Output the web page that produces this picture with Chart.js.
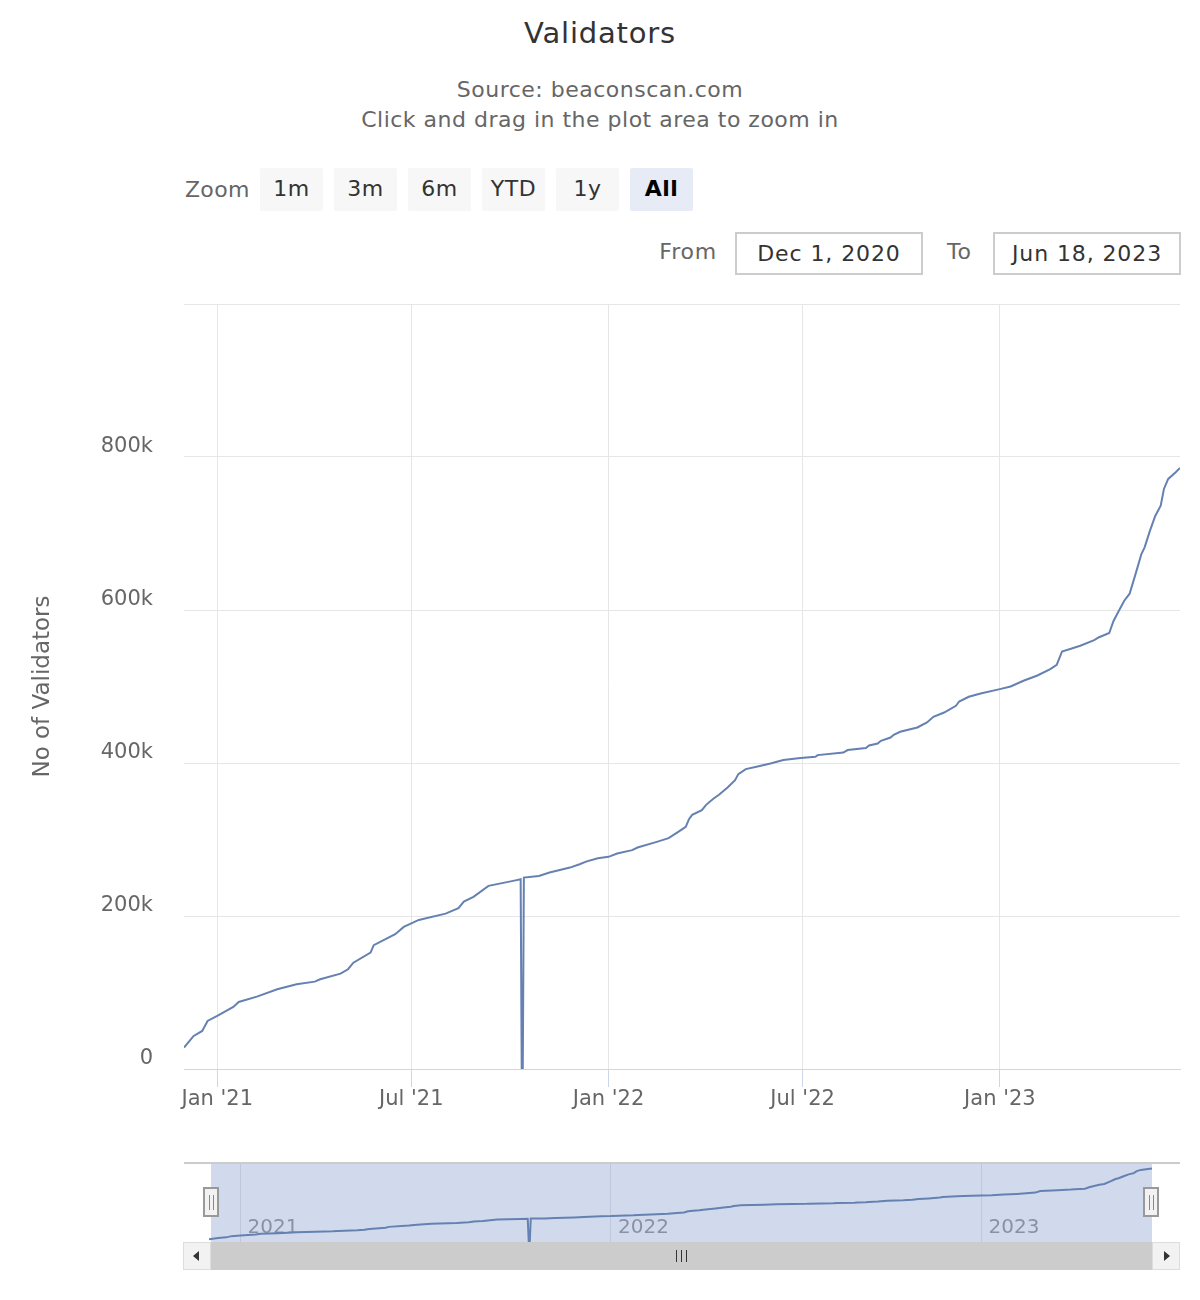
<!DOCTYPE html>
<html>
<head>
<meta charset="utf-8">
<title>Validators</title>
<script src="https://cdn.jsdelivr.net/npm/chart.js@4.4.1/dist/chart.umd.min.js"></script>
<style>
  body { margin: 0; background: #fff; font-family: "DejaVu Sans", sans-serif; }
  #page { position: relative; width: 1200px; height: 1300px; overflow: hidden; }
  .abs { position: absolute; }
  .title { left: 0; width: 1200px; top: 13px; text-align: center; font-size: 29px; letter-spacing: 0.8px; line-height: 40px; color: #333; }
  .sub { left: 0; width: 1200px; top: 75px; text-align: center; font-size: 22px; letter-spacing: 0.5px; line-height: 30px; color: #666; }
  .zoomlbl { left: 185px; top: 175px; font-size: 22px; letter-spacing: 0.3px; line-height: 30px; color: #666; }
  .btn { top: 168px; width: 63px; height: 43px; background: #f7f7f7; border-radius: 2px; text-align: center; font-size: 22px; letter-spacing: 0.5px; line-height: 41px; color: #333; }
  .btn.sel { background: #e6ebf5; font-weight: bold; color: #000; }
  .lbl { top: 237px; font-size: 22px; letter-spacing: 0.8px; line-height: 30px; color: #666; }
  .box { top: 232px; width: 188px; height: 43px; box-sizing: border-box; border: 2px solid #ccc; text-align: center; font-size: 22px; letter-spacing: 0.9px; line-height: 39px; color: #333; }
  .sbtn { top: 1242px; width: 28px; height: 28px; box-sizing: border-box; background: #f2f2f2; border: 1px solid #ddd; }
  .handle { top: 1187px; width: 16px; height: 30px; box-sizing: border-box; background: #f2f2f2; border: 2px solid #999; }
  .handle i { position: absolute; top: 6px; width: 1px; height: 15px; background: #888; }
  .grip { top: 1250px; width: 1px; height: 12px; background: #333; }
</style>
</head>
<body>
<div id="page">
  <div class="abs title">Validators</div>
  <div class="abs sub">Source: beaconscan.com<br>Click and drag in the plot area to zoom in</div>

  <div class="abs zoomlbl">Zoom</div>
  <div class="abs btn" style="left:260px">1m</div>
  <div class="abs btn" style="left:334px">3m</div>
  <div class="abs btn" style="left:408px">6m</div>
  <div class="abs btn" style="left:482px">YTD</div>
  <div class="abs btn" style="left:556px">1y</div>
  <div class="abs btn sel" style="left:630px">All</div>

  <div class="abs lbl" style="left:600px;width:117px;text-align:right">From</div>
  <div class="abs box" style="left:735px">Dec 1, 2020</div>
  <div class="abs lbl" style="left:947px">To</div>
  <div class="abs box" style="left:993px">Jun 18, 2023</div>

  <canvas id="main" class="abs" style="left:0;top:280px" width="1200" height="840"></canvas>
  <canvas id="nav" class="abs" style="left:209px;top:1163px" width="943" height="79"></canvas>

  <div class="abs" style="left:184px;top:1162px;width:996px;height:2px;background:#ccc"></div>

  <div class="abs" style="left:211px;top:1242px;width:941px;height:28px;background:#ccc"></div>
  <div class="abs sbtn" style="left:183px"></div>
  <div class="abs sbtn" style="left:1152px"></div>
  <div class="abs" style="left:193px;top:1251px;width:0;height:0;border-top:5px solid transparent;border-bottom:5px solid transparent;border-right:6px solid #333"></div>
  <div class="abs" style="left:1164px;top:1251px;width:0;height:0;border-top:5px solid transparent;border-bottom:5px solid transparent;border-left:6px solid #333"></div>
  <div class="abs grip" style="left:676px"></div>
  <div class="abs grip" style="left:681px"></div>
  <div class="abs grip" style="left:686px"></div>

  <div class="abs handle" style="left:203px"><i style="left:4px"></i><i style="left:8px"></i></div>
  <div class="abs handle" style="left:1143px"><i style="left:4px"></i><i style="left:8px"></i></div>
</div>

<script>
// validators count
const dates = [
  "2020-12-01", "2020-12-10", "2020-12-18", "2020-12-23", "2021-01-01", "2021-01-16", "2021-01-21",
  "2021-02-07", "2021-02-26", "2021-03-16", "2021-04-02", "2021-04-07", "2021-04-26", "2021-05-03",
  "2021-05-08", "2021-05-24", "2021-05-27", "2021-06-16", "2021-06-24", "2021-07-08", "2021-08-02",
  "2021-08-14", "2021-08-19", "2021-08-28", "2021-09-11", "2021-10-04", "2021-10-11", "2021-10-12",
  "2021-10-13", "2021-10-14", "2021-10-28", "2021-11-07", "2021-11-26", "2021-12-05", "2021-12-11",
  "2021-12-22", "2022-01-01", "2022-01-09", "2022-01-23", "2022-01-28", "2022-02-15", "2022-02-26",
  "2022-03-07", "2022-03-14", "2022-03-17", "2022-03-20", "2022-03-29", "2022-04-02", "2022-04-09",
  "2022-04-14", "2022-04-22", "2022-04-29", "2022-05-02", "2022-05-09", "2022-05-20", "2022-06-01",
  "2022-06-13", "2022-06-29", "2022-07-13", "2022-07-15", "2022-08-08", "2022-08-12", "2022-08-29",
  "2022-09-01", "2022-09-09", "2022-09-12", "2022-09-21", "2022-09-24", "2022-09-30", "2022-10-16",
  "2022-10-25", "2022-10-31", "2022-11-10", "2022-11-21", "2022-11-24", "2022-12-03", "2022-12-14",
  "2023-01-01", "2023-01-11", "2023-01-23", "2023-02-05", "2023-02-17", "2023-02-23", "2023-02-28",
  "2023-03-17", "2023-03-30", "2023-04-03", "2023-04-13", "2023-04-17", "2023-04-22", "2023-04-27",
  "2023-05-02", "2023-05-08", "2023-05-13", "2023-05-16", "2023-05-21", "2023-05-26", "2023-05-31",
  "2023-06-03", "2023-06-07", "2023-06-14", "2023-06-18"
];
const validators = [
  28000, 43200, 49700, 62800, 69300, 81100, 87600,
  94600, 104200, 110800, 114200, 117300, 124700, 130400,
  139000, 152100, 161800, 176200, 185700, 194900, 203100,
  210200, 218800, 225000, 239400, 245900, 248100, 0,
  0, 250200, 252400, 256800, 263300, 267700, 271100,
  275600, 277300, 281600, 286100, 289500, 296900, 301700,
  310000, 316500, 326600, 332200, 338400, 345300, 353600,
  358400, 368000, 377600, 385500, 392000, 395400, 399300,
  403800, 406400, 408100, 410300, 413700, 416900, 419500,
  422900, 425500, 429000, 433300, 436900, 440800, 446400,
  453000, 460400, 466000, 474800, 480400, 486600, 490900,
  496600, 500000, 507500, 514400, 522800, 528400, 545800,
  553300, 560700, 564100, 569900, 585600, 599100, 612100,
  621300, 649200, 673200, 681900, 703700, 723300, 736400,
  758200, 771300, 780000, 785700
];

const rangeFrom = "2020-12-01";
const rangeTo = "2023-06-18";

const xTickDates = ["2021-01-01", "2021-07-01", "2022-01-01", "2022-07-01", "2023-01-01"];
const xTickLabels = ["Jan '21", "Jul '21", "Jan '22", "Jul '22", "Jan '23"];
const navTickDates = ["2021-01-01", "2022-01-01", "2023-01-01"];
const navTickLabels = ["2021", "2022", "2023"];

const yMax = 1000000;
const yStep = 200000;

// days since the start of the range
function dayOf(s) {
  const p = s.split('-').map(Number);
  return (Date.UTC(p[0], p[1] - 1, p[2]) - Date.UTC(2020, 11, 1)) / 864e5;
}

const points = dates.map((d, i) => ({ x: dayOf(d), y: validators[i] }));
const xMin = dayOf(rangeFrom);
const xMax = dayOf(rangeTo);

Chart.defaults.font.family = '"DejaVu Sans", sans-serif';
Chart.defaults.color = '#666';

const lineColor = '#6581b1';

new Chart(document.getElementById('main'), {
  type: 'line',
  data: {
    datasets: [{
      data: points,
      borderColor: lineColor,
      borderWidth: 2,
      pointRadius: 0,
      tension: 0,
      fill: false
    }]
  },
  options: {
    responsive: false,
    animation: false,
    layout: { padding: { top: 24, right: 20, left: 0, bottom: 0 } },
    plugins: { legend: { display: false }, tooltip: { enabled: false } },
    scales: {
      x: {
        type: 'linear',
        min: xMin,
        max: xMax,
        afterBuildTicks: s => { s.ticks = xTickDates.map(d => ({ value: dayOf(d) })); },
        afterFit: s => { s.height = 51; s.paddingLeft = 0; s.paddingRight = 0; },
        grid: { color: '#e6e6e6', tickColor: '#ccd6eb', tickLength: 18 },
        border: { color: '#ccd6eb', width: 1 },
        ticks: {
          font: { size: 21 },
          color: '#666',
          padding: 0,
          maxRotation: 0,
          callback: (v, i) => xTickLabels[i]
        }
      },
      y: {
        min: 0,
        max: yMax,
        afterFit: s => { s.width = 184; s.paddingTop = 0; s.paddingBottom = 0; },
        grid: { color: '#e6e6e6', drawTicks: false },
        border: { display: false },
        title: {
          display: true,
          text: 'No of Validators',
          color: '#666',
          font: { size: 23 },
          padding: { top: 29, bottom: 0 }
        },
        ticks: {
          stepSize: yStep,
          font: { size: 21 },
          color: '#666',
          padding: 31,
          labelOffset: -10,
          callback: v => v === yMax ? '' : (v === 0 ? '0' : (v / 1000) + 'k')
        }
      }
    }
  }
});

// navigator: shaded selection with year labels under it
const navMask = {
  id: 'navMask',
  beforeDatasetsDraw(chart) {
    const ctx = chart.ctx, a = chart.chartArea, xs = chart.scales.x;
    ctx.save();
    ctx.font = '20px "DejaVu Sans", sans-serif';
    ctx.fillStyle = '#999';
    ctx.textBaseline = 'alphabetic';
    navTickDates.forEach((d, i) => {
      ctx.fillText(navTickLabels[i], xs.getPixelForValue(dayOf(d)) + 7, a.bottom - 9);
    });
    ctx.fillStyle = 'rgba(102,133,194,0.3)';
    ctx.fillRect(a.left + 2, a.top, a.right - a.left - 2, a.bottom - a.top);
    ctx.restore();
  }
};

new Chart(document.getElementById('nav'), {
  type: 'line',
  data: {
    datasets: [{
      data: points,
      borderColor: lineColor,
      borderWidth: 2,
      pointRadius: 0,
      tension: 0,
      fill: false
    }]
  },
  options: {
    responsive: false,
    animation: false,
    layout: { padding: 0 },
    plugins: { legend: { display: false }, tooltip: { enabled: false } },
    scales: {
      x: {
        type: 'linear',
        min: xMin,
        max: xMax,
        afterBuildTicks: s => { s.ticks = navTickDates.map(d => ({ value: dayOf(d) })); },
        afterFit: s => { s.height = 0; },
        grid: { color: '#e6e6e6', drawTicks: false },
        border: { display: false },
        ticks: { display: false }
      },
      y: {
        display: false,
        min: 0,
        max: 845000
      }
    }
  },
  plugins: [navMask]
});
</script>
</body>
</html>
